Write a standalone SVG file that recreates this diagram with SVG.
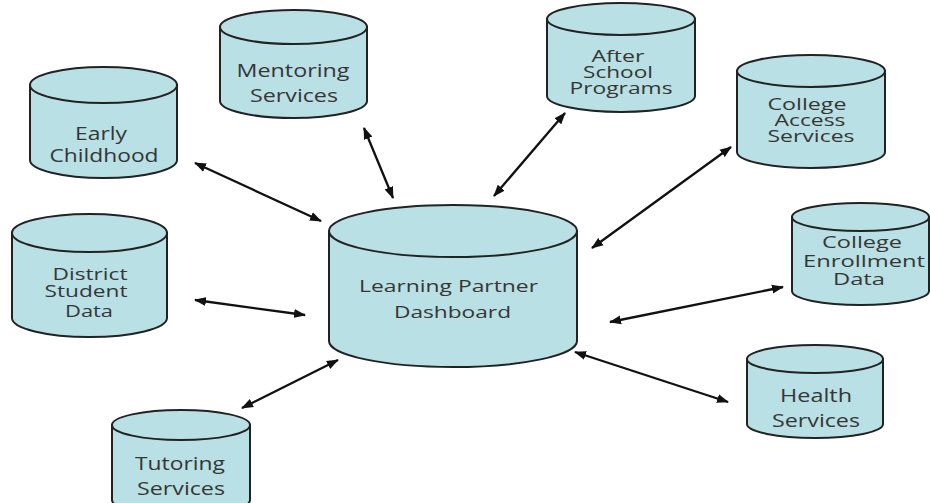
<svg xmlns="http://www.w3.org/2000/svg" width="930" height="503" viewBox="0 0 930 503">
<style>
.cyl{fill:#b9e0e4;stroke:#222;stroke-width:2}
.lbl{font-family:"Open Sans","Liberation Sans",sans-serif;font-size:18px;fill:#363636;text-anchor:middle}
.big{font-size:17px}
.tight{font-size:15.5px}
.con line{stroke:#111;stroke-width:2.3;marker-start:url(#ah);marker-end:url(#ah)}
</style>
<defs>
<marker id="ah" markerUnits="userSpaceOnUse" markerWidth="12" markerHeight="10" viewBox="0 0 12 10" refX="11" refY="5" orient="auto-start-reverse">
<path d="M0,0.5 L12,5 L0,9.5 Z" fill="#111"/>
</marker>
</defs>
<rect width="930" height="503" fill="#fff"/>
<g id="connectors" class="con">
<line x1="195" y1="163" x2="321" y2="221"/>
<line x1="364" y1="128" x2="393" y2="198"/>
<line x1="565" y1="113" x2="494" y2="196"/>
<line x1="731" y1="147" x2="592" y2="248"/>
<line x1="195" y1="300" x2="305" y2="315"/>
<line x1="783" y1="287" x2="610" y2="322"/>
<line x1="575" y1="352" x2="728" y2="402"/>
<line x1="338" y1="360" x2="242" y2="408"/>
</g>
<g id="early-childhood">
<path class="cyl" d="M30,85 L30,160 A73.5,18 0 0 0 177,160 L177,85 Z"/>
<ellipse class="cyl" cx="103.5" cy="85" rx="73.5" ry="18"/>
<text class="lbl" x="101" y="140" textLength="52" lengthAdjust="spacingAndGlyphs">Early</text>
<text class="lbl" x="104" y="162" textLength="109" lengthAdjust="spacingAndGlyphs">Childhood</text>
</g>
<g id="mentoring-services">
<path class="cyl" d="M220,27 L220,101 A73.5,17 0 0 0 367,101 L367,27 Z"/>
<ellipse class="cyl" cx="293.5" cy="27" rx="73.5" ry="17"/>
<text class="lbl" x="293" y="77" textLength="113" lengthAdjust="spacingAndGlyphs">Mentoring</text>
<text class="lbl" x="294" y="102" textLength="88" lengthAdjust="spacingAndGlyphs">Services</text>
</g>
<g id="after-school-programs">
<path class="cyl" d="M547,19 L547,96 A74,16 0 0 0 695,96 L695,19 Z"/>
<ellipse class="cyl" cx="621" cy="19" rx="74" ry="16"/>
<text class="lbl tight" x="618" y="62" textLength="53" lengthAdjust="spacingAndGlyphs">After</text>
<text class="lbl tight" x="618" y="78" textLength="70" lengthAdjust="spacingAndGlyphs">School</text>
<text class="lbl tight" x="621" y="94" textLength="103" lengthAdjust="spacingAndGlyphs">Programs</text>
</g>
<g id="college-access-services">
<path class="cyl" d="M737,71 L737,152 A74,16 0 0 0 885,152 L885,71 Z"/>
<ellipse class="cyl" cx="811" cy="71" rx="74" ry="16"/>
<text class="lbl tight" x="807" y="110" textLength="79" lengthAdjust="spacingAndGlyphs">College</text>
<text class="lbl tight" x="810" y="126" textLength="71" lengthAdjust="spacingAndGlyphs">Access</text>
<text class="lbl tight" x="811" y="142" textLength="87" lengthAdjust="spacingAndGlyphs">Services</text>
</g>
<g id="district-student-data">
<path class="cyl" d="M12,233 L12,318 A77.5,19 0 0 0 167,318 L167,233 Z"/>
<ellipse class="cyl" cx="89.5" cy="233" rx="77.5" ry="19"/>
<text class="lbl tight" x="90" y="280" textLength="75" lengthAdjust="spacingAndGlyphs">District</text>
<text class="lbl tight" x="86" y="297" textLength="83" lengthAdjust="spacingAndGlyphs">Student</text>
<text class="lbl tight" x="89" y="317" textLength="48" lengthAdjust="spacingAndGlyphs">Data</text>
</g>
<g id="learning-partner-dashboard">
<path class="cyl" d="M329,231 L329,341 A124,26 0 0 0 577,341 L577,231 Z"/>
<ellipse class="cyl" cx="453" cy="231" rx="124" ry="26"/>
<text class="lbl big" x="448.5" y="292" textLength="179" lengthAdjust="spacingAndGlyphs">Learning Partner</text>
<text class="lbl big" x="452.5" y="318" textLength="117" lengthAdjust="spacingAndGlyphs">Dashboard</text>
</g>
<g id="college-enrollment-data">
<path class="cyl" d="M792,217 L792,291 A68.5,14 0 0 0 929,291 L929,217 Z"/>
<ellipse class="cyl" cx="860.5" cy="217" rx="68.5" ry="14"/>
<text class="lbl tight" x="862" y="248" textLength="80" lengthAdjust="spacingAndGlyphs">College</text>
<text class="lbl tight" x="864" y="267" textLength="122" lengthAdjust="spacingAndGlyphs">Enrollment</text>
<text class="lbl tight" x="859" y="285" textLength="52" lengthAdjust="spacingAndGlyphs">Data</text>
</g>
<g id="health-services">
<path class="cyl" d="M747,359 L747,424 A68,14 0 0 0 883,424 L883,359 Z"/>
<ellipse class="cyl" cx="815" cy="359" rx="68" ry="14"/>
<text class="lbl" x="816" y="402" textLength="72" lengthAdjust="spacingAndGlyphs">Health</text>
<text class="lbl" x="816" y="427" textLength="88" lengthAdjust="spacingAndGlyphs">Services</text>
</g>
<g id="tutoring-services">
<path class="cyl" d="M112,425 L112,500 A69,15 0 0 0 250,500 L250,425 Z"/>
<ellipse class="cyl" cx="181" cy="425" rx="69" ry="15"/>
<text class="lbl" x="180" y="470" textLength="90" lengthAdjust="spacingAndGlyphs">Tutoring</text>
<text class="lbl" x="181" y="495" textLength="88" lengthAdjust="spacingAndGlyphs">Services</text>
</g>
</svg>
